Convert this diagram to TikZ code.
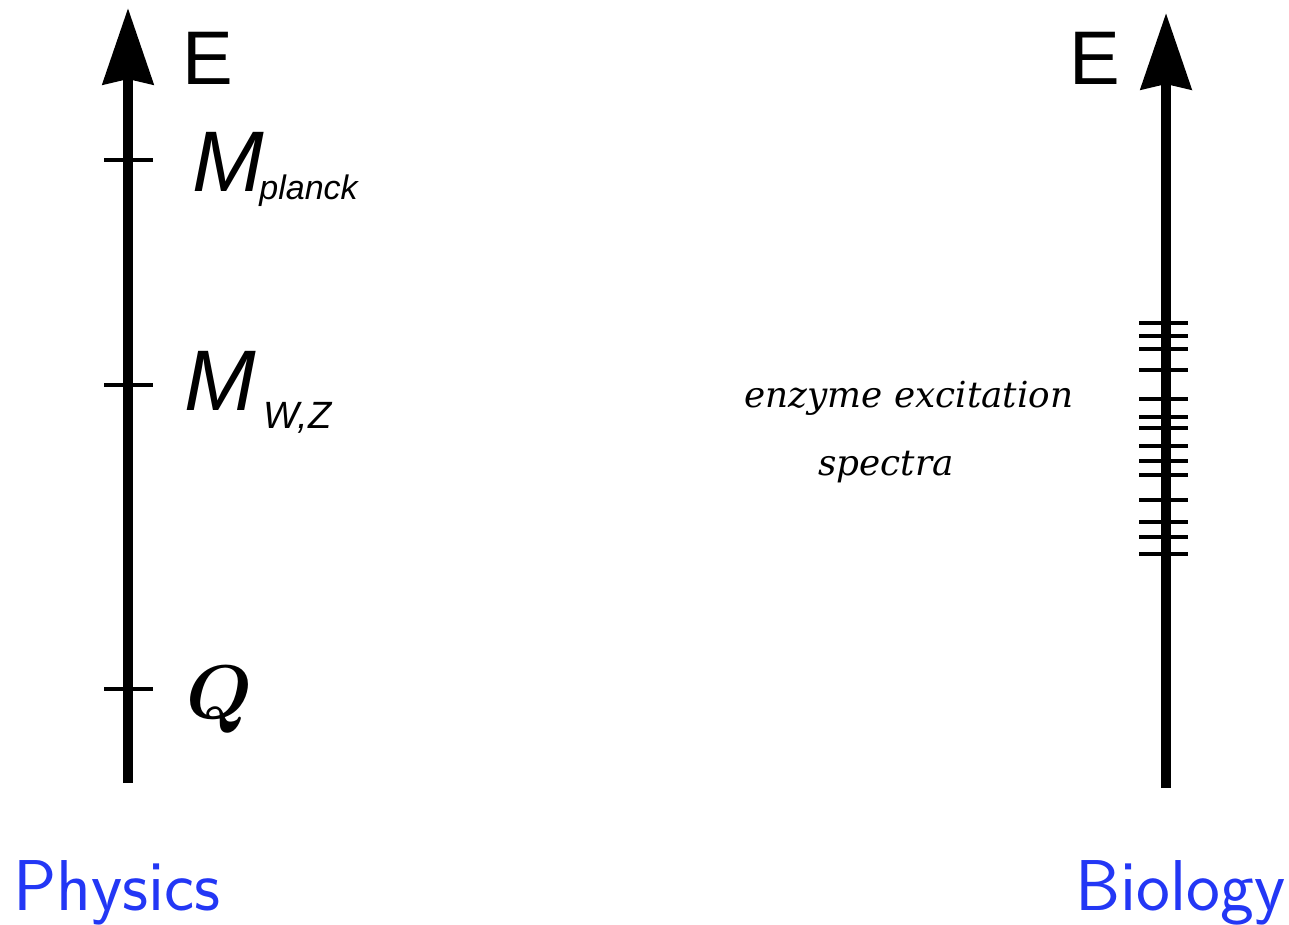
\documentclass[tikz,border=0pt]{standalone}
\usepackage{amsmath,amsbsy}
\usepackage{fontspec}
\DeclareFontShape{OML}{cmm}{b}{it}{<->cmmib10}{}
\DeclareFontShape{OML}{cmm}{m}{it}{<->cmmi10}{}
\newfontfamily\helv{Liberation Sans}
\newfontfamily\centfont{DejaVu Serif}
\usetikzlibrary{arrows.meta}
\definecolor{labblue}{RGB}{35,55,245}
\begin{document}
\begin{tikzpicture}[x=0.5pt,y=-0.5pt,
  axis/.style={line width=5pt,-{Stealth[length=38pt,width=25pt,inset=2.5pt]}},
  tick/.style={line width=2.3pt},
  lab/.style={inner sep=0pt,anchor=base west},
  efont/.style={lab,font=\helv\fontsize{38}{40}\selectfont},
  mfont/.style={lab,font=\helv\itshape\fontsize{43}{45}\selectfont},
  subfont/.style={lab,font=\helv\itshape\fontsize{17}{19}\selectfont},
  bio/.style={lab,font=\centfont\itshape\fontsize{17.9}{20}\selectfont},
  field/.style={lab,text=labblue,font=\sffamily\fontsize{36}{38}\selectfont}]
\useasboundingbox (0,0) rectangle (1289,925);
% left axis
\coordinate (lb) at (128,783);
\coordinate (lt) at (128,8);
\draw[axis] (lb) -- (lt);
\foreach \y in {160,385,689}{\draw[tick] (104,\y) -- (153,\y);}
\node[efont] (lE) at (182,85) {E};
\node[mfont] (mp) at (192,192) {M};
\node[subfont] (mps) at (259,200) {planck};
\node[mfont] (mw) at (184,410) {M};
\node[subfont,font=\helv\itshape\fontsize{19}{21}\selectfont] (mws) at (263,428) {W,Z};
\node[lab,font=\fontsize{38}{40}\selectfont] (q) at (186,718) {$\boldsymbol{Q}$};
% right axis
\coordinate (rb) at (1166,788);
\coordinate (rt) at (1166,13);
\draw[axis] (rb) -- (rt);
\foreach \y in {323,336,349,370,399,417,428,446,461,475,500,522,537,554}{\draw[tick] (1139,\y) -- (1188,\y);}
\node[efont] (rE) at (1069,85) {E};
\node[bio] (enz) at (744,407) {enzyme excitation};
\node[bio] (spec) at (818,475) {spectra};
% field labels
\node[field] (phys) at (13,910) {Physics};
\node[field] (biol) at (1075,910) {Biology};
\end{tikzpicture}
\end{document}
